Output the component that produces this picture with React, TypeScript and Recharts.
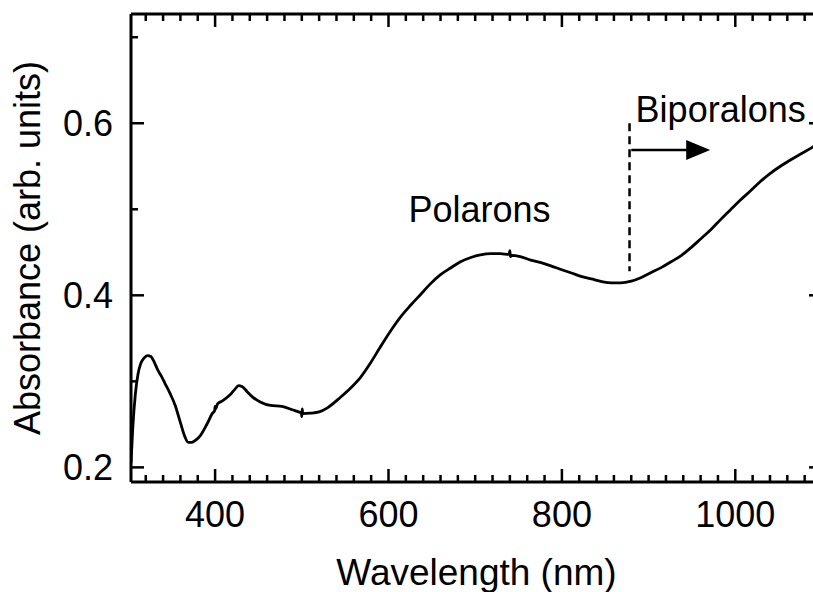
import React from 'react';
import { LineChart, Line, XAxis, YAxis, ReferenceLine, ReferenceDot, Label } from 'recharts';

const wavelengths = [303,305,308,311,314,318,322,326,329,334,338,342,348,354,360,365,369,373,378,383,391,397,399.5,400,400.6,403,408,417,423,427,431,437,443,452,464,477,489,498,499.6,500,500.5,501,510,520,530,544,556,568,579,590,602,614,626,637,648,660,672,683,695,706,718,729,739,740,740.6,742,752,764,776,788,799,811,822,834,846,857,868,880,891,903,915,926,938,949,960,972,983,994,1005,1017,1028,1040,1052,1064,1076,1088,1100];
const absorbance = [0.205,0.245,0.285,0.308,0.320,0.327,0.330,0.329,0.324,0.313,0.306,0.298,0.286,0.272,0.252,0.236,0.229,0.229,0.232,0.237,0.251,0.263,0.266,0.271,0.268,0.274,0.277,0.284,0.291,0.295,0.294,0.288,0.282,0.276,0.272,0.271,0.267,0.264,0.2635,0.259,0.268,0.2625,0.263,0.2645,0.2695,0.281,0.292,0.305,0.321,0.339,0.358,0.375,0.389,0.401,0.413,0.424,0.432,0.439,0.444,0.447,0.4485,0.4485,0.4475,0.452,0.445,0.4465,0.445,0.441,0.438,0.434,0.430,0.426,0.422,0.419,0.416,0.4145,0.4145,0.4165,0.4205,0.4265,0.4325,0.4390,0.4465,0.4555,0.4655,0.4765,0.4880,0.4990,0.5100,0.5210,0.5315,0.5415,0.5500,0.5575,0.5645,0.5715,0.5785];

const xTicks = [320,340,360,380,400,420,440,460,480,500,520,540,560,580,600,620,640,660,680,700,720,740,760,780,800,820,840,860,880,900,920,940,960,980,1000,1020,1040,1060,1080];
const xMajor = [400, 600, 800, 1000];
const yTicks = [0.2, 0.3, 0.4, 0.5, 0.6, 0.7];
const yMajor = [0.2, 0.4, 0.6];
const yLabels = ['0.2', '', '0.4', '', '0.6', ''];

const xDomain = [303, 1100];
const yDomain = [0.183, 0.727];

const data = wavelengths.map((w, i) => ({ w, a: absorbance[i] }));

const FONT = '"Liberation Sans", Arial, sans-serif';
const TICK_W = 2.5;

const BottomTick = (p: any) => {
  const major = xMajor.includes(p.payload.value);
  return (
    <g>
      <line x1={p.x} x2={p.x} y1={p.y} y2={p.y - (major ? 13 : 7)} stroke="#000" strokeWidth={TICK_W} />
      {major && (
        <text x={p.x} y={p.y + 45} textAnchor="middle" fontSize={36} fontFamily={FONT} fill="#000">
          {p.payload.value}
        </text>
      )}
    </g>
  );
};

const TopTick = (p: any) => {
  const major = xMajor.includes(p.payload.value);
  return <line x1={p.x} x2={p.x} y1={p.y} y2={p.y + (major ? 13 : 7)} stroke="#000" strokeWidth={TICK_W} />;
};

const LeftTick = (p: any) => {
  const idx = yTicks.indexOf(p.payload.value);
  const major = yMajor.includes(p.payload.value);
  return (
    <g>
      <line x1={p.x} x2={p.x + (major ? 13 : 7)} y1={p.y} y2={p.y} stroke="#000" strokeWidth={TICK_W} />
      {major && (
        <text x={p.x - 18} y={p.y + 13} textAnchor="end" fontSize={36} fontFamily={FONT} fill="#000">
          {yLabels[idx]}
        </text>
      )}
    </g>
  );
};

const RightTick = (p: any) => {
  const major = yMajor.includes(p.payload.value);
  return <line x1={p.x} x2={p.x - (major ? 13 : 7)} y1={p.y} y2={p.y} stroke="#000" strokeWidth={TICK_W} />;
};

const textShape = (txt: string, anchor: string) => (p: any) => (
  <text x={p.cx} y={p.cy} textAnchor={anchor} fontSize={36} fontFamily={FONT} fill="#000">
    {txt}
  </text>
);

const arrowHead = (p: any) => (
  <path d={`M${p.cx},${p.cy} L${p.cx - 24},${p.cy - 10} L${p.cx - 24},${p.cy + 10} Z`} fill="#000" />
);

export default function App() {
  return (
    <div style={{ position: 'fixed', left: 0, top: 0, width: 813, height: 592, overflow: 'hidden', background: '#fff' }}>
      <LineChart width={842} height={592} data={data} margin={{ top: 0, right: 0, bottom: 0, left: 0 }}>
        <XAxis
          dataKey="w"
          type="number"
          domain={xDomain}
          allowDataOverflow
          ticks={xTicks}
          interval={0}
          tickSize={0}
          tickMargin={0}
          tickLine={false}
          tick={<BottomTick />}
          axisLine={{ stroke: '#000', strokeWidth: 3 }}
          height={110}
        >
          <Label
            content={(props: any) => {
              const vb = props.viewBox;
              return (
                <text x={vb.x + vb.width / 2} y={vb.y + 103} textAnchor="middle" fontSize={37} fontFamily={FONT} fill="#000">
                  Wavelength (nm)
                </text>
              );
            }}
          />
        </XAxis>
        <XAxis
          xAxisId="top"
          orientation="top"
          dataKey="w"
          type="number"
          domain={xDomain}
          allowDataOverflow
          ticks={xTicks}
          interval={0}
          tickSize={0}
          tickMargin={0}
          tickLine={false}
          tick={<TopTick />}
          axisLine={{ stroke: '#000', strokeWidth: 3 }}
          height={14}
        />
        <YAxis
          type="number"
          domain={yDomain}
          allowDataOverflow
          ticks={yTicks}
          interval={0}
          tickSize={0}
          tickMargin={0}
          tickLine={false}
          tick={<LeftTick />}
          axisLine={{ stroke: '#000', strokeWidth: 3 }}
          width={131}
        >
          <Label
            content={(props: any) => {
              const vb = props.viewBox;
              const cy = vb.y + vb.height / 2;
              return (
                <text x={40} y={cy} transform={`rotate(-90, 40, ${cy})`} textAnchor="middle" fontSize={36} fontFamily={FONT} fill="#000">
                  Absorbance (arb. units)
                </text>
              );
            }}
          />
        </YAxis>
        <YAxis
          yAxisId="right"
          orientation="right"
          type="number"
          domain={yDomain}
          allowDataOverflow
          ticks={yTicks}
          interval={0}
          tickSize={0}
          tickMargin={0}
          tickLine={false}
          tick={<RightTick />}
          axisLine={{ stroke: '#000', strokeWidth: 3 }}
          width={20}
        />
        <ReferenceLine
          segment={[{ x: 878, y: 0.6 }, { x: 878, y: 0.428 }]}
          stroke="#000"
          strokeWidth={2.5}
          strokeDasharray="8 5"
        />
        <ReferenceLine
          segment={[{ x: 880, y: 0.569 }, { x: 950, y: 0.569 }]}
          stroke="#000"
          strokeWidth={2.5}
        />
        <ReferenceDot x={971} y={0.569} r={0} shape={arrowHead} />
        <ReferenceDot x={705} y={0.4854} r={0} shape={textShape('Polarons', 'middle')} />
        <ReferenceDot x={885} y={0.6015} r={0} shape={textShape('Biporalons', 'start')} />
        <Line
          dataKey="a"
          type="monotone"
          stroke="#000"
          strokeWidth={2.8}
          dot={false}
          isAnimationActive={false}
        />
      </LineChart>
    </div>
  );
}
